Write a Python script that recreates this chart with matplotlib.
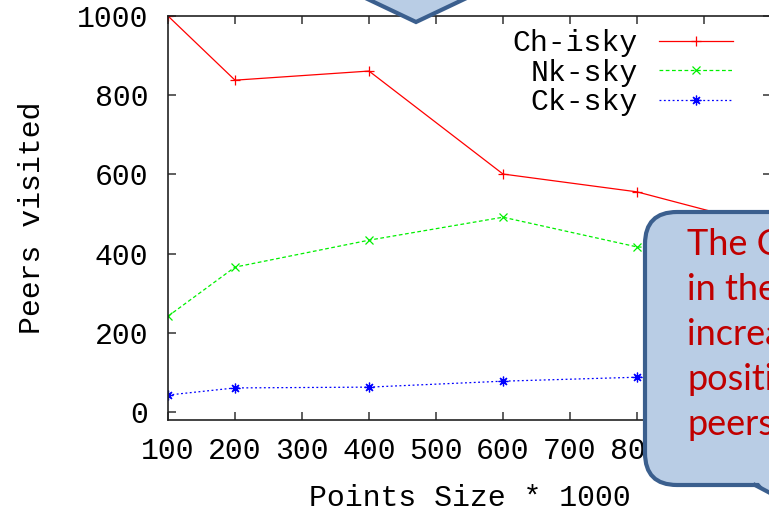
import numpy as np
import matplotlib
matplotlib.use('Agg')
import matplotlib.pyplot as plt
from matplotlib.patches import FancyBboxPatch, Polygon
from matplotlib.lines import Line2D
from matplotlib.transforms import IdentityTransform

# data
points_size = [100, 200, 400, 600, 800, 1000]
ch_isky = [1000, 838, 861, 601, 556, 467]
nk_sky = [242, 366, 434, 492, 417, 400]
ck_sky = [43, 61, 63, 78, 88, 95]

x_ticks = [100, 200, 300, 400, 500, 600, 700, 800, 900, 1000]
# 900 and 1000 sit under the callout, so no text there
x_tick_labels = ['100', '200', '300', '400', '500', '600', '700', '800', '', '']
y_ticks = [0, 200, 400, 600, 800, 1000]

bubble_lines = ['The C', 'in the', 'increa', 'positi', 'peers']

W, H = 769, 513
mono = 'Liberation Mono'
fs = 21.5

fig = plt.figure(figsize=(W / 100, H / 100), dpi=100)
ax = fig.add_axes([168 / W, (H - 420) / H, (771 - 168) / W, (420 - 16) / H])

ax.plot(points_size, ch_isky, color='#ff0000', lw=0.9, marker='+', ms=7, mew=0.9,
        label='Ch-isky')
ax.plot(points_size, nk_sky, color='#00f000', lw=0.9, ls=(0, (3, 2)), marker='x', ms=6, mew=0.9,
        label='Nk-sky')
ax.plot(points_size, ck_sky, color='#0000ff', lw=0.9, ls=(0, (1.5, 2)), marker=(8, 2, 0), ms=7, mew=0.9,
        label='Ck-sky')

ax.set_xlim(100, 1000)
ax.set_ylim(-20, 1000)
ax.set_xticks(x_ticks)
ax.set_xticklabels(x_tick_labels)
ax.set_yticks(y_ticks)
ax.tick_params(direction='in', length=6, width=1.1, color='#333333', top=True, right=True,
               labelsize=fs)
ax.tick_params(axis='y', pad=14)
ax.tick_params(axis='x', pad=12)
for lab in ax.get_xticklabels() + ax.get_yticklabels():
    lab.set_family(mono)
for s in ax.spines.values():
    s.set_linewidth(1.2)
    s.set_color('#222222')

ax.set_xlabel('Points Size * 1000', family=mono, fontsize=fs, labelpad=14)
ax.set_ylabel('Peers visited', family=mono, fontsize=fs, labelpad=22)

leg = ax.legend(loc='upper right', bbox_to_anchor=(0.96, 1.0), frameon=False, markerfirst=False,
                prop={'family': mono, 'size': fs}, handlelength=2.5, handletextpad=0.7,
                labelspacing=0.05, borderaxespad=0.25, borderpad=0.2)

# overlay shapes (slide callouts), pixel coords
fill = '#b9cde5'
edge = '#3b5f8e'


def px(x, y):
    return (x, H - y)


arrow = Polygon([px(357, -6), px(416, 22), px(475, -6)], closed=True,
                facecolor=fill, edgecolor=edge, lw=3, transform=IdentityTransform(),
                zorder=10)
fig.add_artist(arrow)

bubble = FancyBboxPatch(px(645, 485), 300, 273,
                        boxstyle='round,pad=0,rounding_size=32',
                        facecolor=fill, edgecolor=edge, lw=3,
                        transform=IdentityTransform(), zorder=10)
fig.add_artist(bubble)
tail = Polygon([px(758, 482), px(800, 482), px(800, 530)], closed=True,
               facecolor=fill, edgecolor='none', transform=IdentityTransform(), zorder=11)
fig.add_artist(tail)
fig.add_artist(Line2D([755, 772], [H - 485, H - 494], color=edge, lw=3,
                      transform=IdentityTransform(), zorder=12))

for i, line in enumerate(bubble_lines):
    fig.text(687 / W, (H - (255 + 45 * i)) / H, line, family='Lato', fontsize=26,
             color='#c00000', va='baseline', ha='left', zorder=13)

fig.savefig('out.png', dpi=100)
